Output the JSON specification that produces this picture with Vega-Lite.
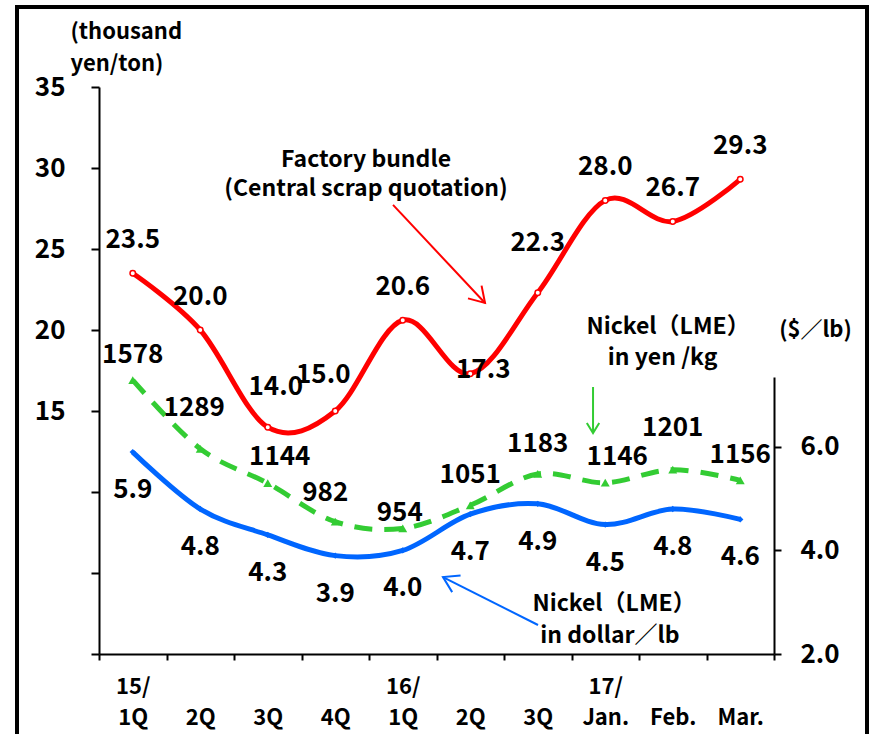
{
  "$schema": "https://vega.github.io/schema/vega-lite/v6.json",
  "width": 850,
  "height": 740,
  "autosize": {"type": "none"},
  "padding": {"left": 17, "top": 7, "right": 6, "bottom": -13},
  "background": "white",
  "config": {
    "view": {"stroke": "black", "strokeWidth": 4},
    "font": "Noto Sans CJK JP",
    "axis": {"grid": false, "domainColor": "black", "tickColor": "black", "domainWidth": 2, "tickWidth": 2, "labelColor": "black", "titleColor": "black", "labelFont": "Noto Sans CJK JP", "titleFont": "Noto Sans CJK JP"},
    "text": {"font": "Noto Sans CJK JP", "fontSize": 26, "fontWeight": "bold", "color": "black"}
  },
  "datasets": {
    "series": [
      {"period": "15/1Q", "factory": 23.5, "nickel_yen": 1578, "nickel_usd": 5.9},
      {"period": "15/2Q", "factory": 20.0, "nickel_yen": 1289, "nickel_usd": 4.8},
      {"period": "15/3Q", "factory": 14.0, "nickel_yen": 1144, "nickel_usd": 4.3},
      {"period": "15/4Q", "factory": 15.0, "nickel_yen": 982, "nickel_usd": 3.9},
      {"period": "16/1Q", "factory": 20.6, "nickel_yen": 954, "nickel_usd": 4.0},
      {"period": "16/2Q", "factory": 17.3, "nickel_yen": 1051, "nickel_usd": 4.7},
      {"period": "16/3Q", "factory": 22.3, "nickel_yen": 1183, "nickel_usd": 4.9},
      {"period": "17/Jan.", "factory": 28.0, "nickel_yen": 1146, "nickel_usd": 4.5},
      {"period": "17/Feb.", "factory": 26.7, "nickel_yen": 1201, "nickel_usd": 4.8},
      {"period": "17/Mar.", "factory": 29.3, "nickel_yen": 1156, "nickel_usd": 4.6}
    ]
  },
  "data": {"name": "series"},
  "layer": [
    {
      "encoding": {
        "x": {"field": "period", "type": "nominal", "sort": null, "scale": {"type": "band", "range": [82, 757], "paddingInner": 0, "paddingOuter": 0}, "axis": null},
        "y": {"field": "nickel_yen", "type": "quantitative", "scale": {"domain": [425, 2812], "range": [647, 80], "zero": false, "nice": false}, "axis": null}
      },
      "layer": [
        {"mark": {"type": "line", "color": "#33CC33", "strokeWidth": 5, "strokeDash": [18, 12], "interpolate": "cardinal"}},
        {"mark": {"type": "point", "shape": "triangle-up", "filled": true, "color": "#33CC33", "size": 80, "opacity": 1}},
        {"transform": [{"filter": "indexof(['15/1Q','17/Mar.'], datum.period) >= 0"}], "mark": {"type": "text", "dy": -25}, "encoding": {"text": {"field": "nickel_yen", "format": "d"}}},
        {"transform": [{"filter": "indexof(['15/3Q','17/Jan.'], datum.period) >= 0"}], "mark": {"type": "text", "dy": -26, "dx": 12}, "encoding": {"text": {"field": "nickel_yen", "format": "d"}}},
        {"transform": [{"filter": "datum.period == '15/2Q'"}], "mark": {"type": "text", "dy": -41, "dx": -6}, "encoding": {"text": {"field": "nickel_yen", "format": "d"}}},
        {"transform": [{"filter": "datum.period == '15/4Q'"}], "mark": {"type": "text", "dy": -29, "dx": -10}, "encoding": {"text": {"field": "nickel_yen", "format": "d"}}},
        {"transform": [{"filter": "datum.period == '16/1Q'"}], "mark": {"type": "text", "dy": -15, "dx": -3}, "encoding": {"text": {"field": "nickel_yen", "format": "d"}}},
        {"transform": [{"filter": "indexof(['16/2Q','16/3Q'], datum.period) >= 0"}], "mark": {"type": "text", "dy": -30}, "encoding": {"text": {"field": "nickel_yen", "format": "d"}}},
        {"transform": [{"filter": "datum.period == '17/Feb.'"}], "mark": {"type": "text", "dy": -42}, "encoding": {"text": {"field": "nickel_yen", "format": "d"}}}
      ]
    },
    {
      "encoding": {
        "x": {"field": "period", "type": "nominal", "sort": null, "scale": {"type": "band", "range": [82, 757], "paddingInner": 0, "paddingOuter": 0}, "axis": null},
        "y": {"field": "nickel_usd", "type": "quantitative", "scale": {"domain": [2, 7.35], "range": [647, 370], "zero": false, "nice": false},
          "axis": {"orient": "right", "offset": -93, "values": [2, 4, 6], "format": ".1f", "tickSize": 7, "labelPadding": 19, "labelFontSize": 26, "labelFontWeight": "bold", "title": "($／lb)", "titleAngle": 0, "titleAlign": "center", "titleBaseline": "alphabetic", "titleX": 41, "titleY": 329, "titleFontSize": 22, "titleFontWeight": "bold"}}
      },
      "layer": [
        {"mark": {"type": "line", "color": "#0066FF", "strokeWidth": 5, "interpolate": "cardinal"}},
        {"mark": {"type": "point", "shape": "diamond", "filled": true, "color": "#0066FF", "size": 40, "opacity": 1}},
        {"mark": {"type": "text", "dy": 38}, "encoding": {"text": {"field": "nickel_usd", "format": ".1f"}}}
      ]
    },
    {
      "encoding": {
        "x": {"field": "period", "type": "nominal", "sort": null, "scale": {"type": "band", "range": [82, 757], "paddingInner": 0, "paddingOuter": 0},
          "axis": {"orient": "bottom", "offset": -93, "title": null, "tickSize": 6, "tickBand": "extent", "labelAngle": 0, "labelFontSize": 22, "labelFontWeight": "bold", "labelLineHeight": 31, "labelPadding": 16, "labelBaseline": "top", "labelOverlap": false, "labelBound": false, "labelFlush": false,
            "labelExpr": "(datum.value == '15/1Q' || datum.value == '16/1Q' || datum.value == '17/Jan.') ? [split(datum.value, '/')[0] + '/', split(datum.value, '/')[1]] : ['', split(datum.value, '/')[1]]"}},
        "y": {"field": "factory", "type": "quantitative", "scale": {"domain": [0, 35], "range": [647, 80], "zero": false, "nice": false},
          "axis": {"orient": "left", "offset": -82, "values": [0, 5, 10, 15, 20, 25, 30, 35], "labelExpr": "datum.value >= 15 ? datum.label : ''", "tickSize": 8, "labelPadding": 26, "labelFontSize": 26, "labelFontWeight": "bold", "title": ["(thousand", "yen/ton)"], "titleAngle": 0, "titleAlign": "left", "titleBaseline": "alphabetic", "titleX": -29, "titleY": 31, "titleFontSize": 22, "titleFontWeight": "bold", "titleLineHeight": 32}}
      },
      "layer": [
        {"mark": {"type": "line", "color": "#FF0000", "strokeWidth": 5, "interpolate": "cardinal"}},
        {"mark": {"type": "point", "shape": "circle", "filled": true, "fill": "white", "stroke": "#FF0000", "strokeWidth": 1.5, "size": 30, "opacity": 1}},
        {"transform": [{"filter": "indexof(['15/3Q','15/4Q','16/2Q','16/3Q'], datum.period) < 0"}], "mark": {"type": "text", "dy": -33}, "encoding": {"text": {"field": "factory", "format": ".1f"}}},
        {"transform": [{"filter": "datum.period == '15/3Q'"}], "mark": {"type": "text", "dy": -40, "dx": 8}, "encoding": {"text": {"field": "factory", "format": ".1f"}}},
        {"transform": [{"filter": "datum.period == '15/4Q'"}], "mark": {"type": "text", "dy": -36, "dx": -12}, "encoding": {"text": {"field": "factory", "format": ".1f"}}},
        {"transform": [{"filter": "datum.period == '16/2Q'"}], "mark": {"type": "text", "dy": -4, "dx": 13}, "encoding": {"text": {"field": "factory", "format": ".1f"}}},
        {"transform": [{"filter": "datum.period == '16/3Q'"}], "mark": {"type": "text", "dy": -50}, "encoding": {"text": {"field": "factory", "format": ".1f"}}}
      ]
    },
    {
      "data": {"values": [{}]},
      "layer": [
        {"mark": {"type": "text", "text": "Factory bundle", "align": "center", "baseline": "middle", "fontSize": 23},
          "encoding": {"x": {"datum": 3.956, "type": "quantitative", "scale": {"domain": [0, 10], "range": [82, 757], "zero": false, "nice": false}, "axis": null}, "y": {"datum": 30.49, "type": "quantitative", "scale": {"domain": [0, 35], "range": [647, 80], "zero": false, "nice": false}, "axis": null}}},
        {"mark": {"type": "text", "text": "(Central scrap quotation)", "align": "center", "baseline": "middle", "fontSize": 23},
          "encoding": {"x": {"datum": 3.956, "type": "quantitative"}, "y": {"datum": 28.7, "type": "quantitative"}}},
        {"mark": {"type": "text", "text": "Nickel（LME）", "align": "center", "baseline": "middle", "fontSize": 23},
          "encoding": {"x": {"datum": 8.43, "type": "quantitative"}, "y": {"datum": 20.19, "type": "quantitative"}}},
        {"mark": {"type": "text", "text": "in yen /kg", "align": "center", "baseline": "middle", "fontSize": 23},
          "encoding": {"x": {"datum": 8.35, "type": "quantitative"}, "y": {"datum": 18.27, "type": "quantitative"}}},
        {"mark": {"type": "text", "text": "Nickel（LME）", "align": "center", "baseline": "middle", "fontSize": 23},
          "encoding": {"x": {"datum": 7.63, "type": "quantitative"}, "y": {"datum": 3.09, "type": "quantitative"}}},
        {"mark": {"type": "text", "text": "in dollar／lb", "align": "center", "baseline": "middle", "fontSize": 23},
          "encoding": {"x": {"datum": 7.57, "type": "quantitative"}, "y": {"datum": 1.11, "type": "quantitative"}}},
        {"mark": {"type": "rule", "color": "#FF0000", "strokeWidth": 2},
          "encoding": {"x": {"datum": 4.356, "type": "quantitative"}, "x2": {"datum": 5.719}, "y": {"datum": 27.72, "type": "quantitative"}, "y2": {"datum": 21.67}}},
        {"mark": {"type": "point", "shape": "M-1,-0.62L0,0L-1,0.62", "filled": false, "stroke": "#FF0000", "strokeWidth": 2, "size": 900, "angle": 46.8, "opacity": 1},
          "encoding": {"x": {"datum": 5.719, "type": "quantitative"}, "y": {"datum": 21.67, "type": "quantitative"}}},
        {"mark": {"type": "rule", "color": "#33CC33", "strokeWidth": 2},
          "encoding": {"x": {"datum": 7.319, "type": "quantitative"}, "y": {"datum": 16.48, "type": "quantitative"}, "y2": {"datum": 13.64}}},
        {"mark": {"type": "point", "shape": "M-1,-0.62L0,0L-1,0.62", "filled": false, "stroke": "#33CC33", "strokeWidth": 2, "size": 400, "angle": 90, "opacity": 1},
          "encoding": {"x": {"datum": 7.319, "type": "quantitative"}, "y": {"datum": 13.64, "type": "quantitative"}}},
        {"mark": {"type": "rule", "color": "#0066FF", "strokeWidth": 2},
          "encoding": {"x": {"datum": 6.504, "type": "quantitative"}, "x2": {"datum": 5.096}, "y": {"datum": 1.79, "type": "quantitative"}, "y2": {"datum": 4.75}}},
        {"mark": {"type": "point", "shape": "M-1,-0.62L0,0L-1,0.62", "filled": false, "stroke": "#0066FF", "strokeWidth": 2, "size": 900, "angle": 206.8, "opacity": 1},
          "encoding": {"x": {"datum": 5.096, "type": "quantitative"}, "y": {"datum": 4.75, "type": "quantitative"}}}
      ]
    }
  ],
  "resolve": {"scale": {"x": "independent", "y": "independent"}}
}
